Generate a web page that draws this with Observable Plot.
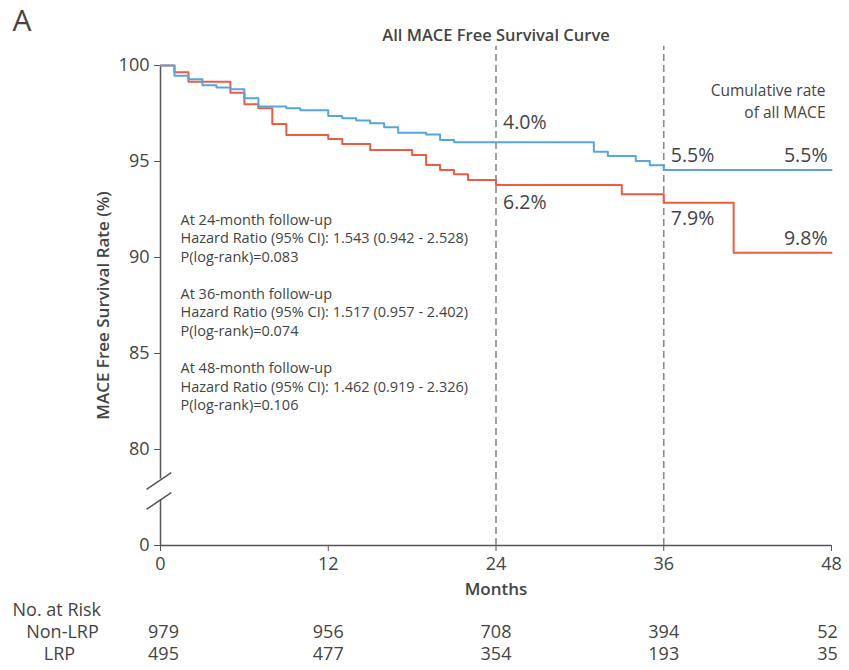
<!DOCTYPE html>
<html>
<head>
<meta charset="utf-8">
<script src="https://cdn.jsdelivr.net/npm/d3@7"></script>
<script src="https://cdn.jsdelivr.net/npm/@observablehq/plot@0.6"></script>
<style>
  html, body { margin: 0; padding: 0; background: #fff; }
  #chart { width: 849px; height: 670px; }
  svg { font-family: "Open Sans", "Noto Sans", sans-serif; }
</style>
</head>
<body>
<div id="chart"></div>
<script>
// ---------- data ----------
const nonLrpMonths = [0, 1, 2, 3, 4, 5, 6, 7, 9, 10, 12, 13, 14, 15, 16, 17, 19, 20, 21, 31, 32, 34, 35, 36, 48];
const nonLrpSurv   = [100, 99.47, 99.28, 98.97, 98.86, 98.76, 98.29, 97.86, 97.77, 97.67, 97.37, 97.25, 97.13, 96.99, 96.78, 96.5, 96.41, 96.12, 96.0, 95.51, 95.29, 95.03, 94.8, 94.56, 94.56];
const lrpMonths = [0, 1, 2, 5, 6, 7, 8, 9, 12, 13, 15, 18, 19, 20, 21, 22, 24, 33, 36, 41, 48];
const lrpSurv   = [100, 99.65, 99.16, 98.58, 97.98, 97.77, 96.95, 96.38, 96.17, 95.91, 95.6, 95.34, 94.82, 94.56, 94.33, 94.04, 93.78, 93.29, 92.85, 90.25, 90.25];

const xTicks = [0, 12, 24, 36, 48];
const yTicks = [75, 80, 85, 90, 95, 100];          // 75 is drawn as "0" (broken axis)
const yTickLabels = ["0", "80", "85", "90", "95", "100"];
const landmarkMonths = [24, 36];

const riskNonLrp = [979, 956, 708, 394, 52];
const riskLrp    = [495, 477, 354, 193, 35];

const rateLabels    = ["4.0%", "6.2%", "5.5%", "7.9%", "5.5%", "9.8%"];
const rateMonths    = [24, 24, 36, 36, 48, 48];
const rateValues    = [97.0, 92.85, 95.3, 92.0, 95.3, 91.0];
const rateAnchors   = ["start", "start", "start", "start", "end", "end"];

const statsLines = [
  "At 24-month follow-up", "Hazard Ratio (95% CI): 1.543 (0.942 - 2.528)", "P(log-rank)=0.083", "",
  "At 36-month follow-up", "Hazard Ratio (95% CI): 1.517 (0.957 - 2.402)", "P(log-rank)=0.074", "",
  "At 48-month follow-up", "Hazard Ratio (95% CI): 1.462 (0.919 - 2.326)", "P(log-rank)=0.106"
];

// ---------- tables built from arrays ----------
const curves = [
  ...lrpMonths.map((m, i) => ({group: "LRP", month: m, surv: lrpSurv[i]})),
  ...nonLrpMonths.map((m, i) => ({group: "Non-LRP", month: m, surv: nonLrpSurv[i]}))
];
const rates = rateLabels.map((t, i) => ({text: t, month: rateMonths[i], value: rateValues[i], anchor: rateAnchors[i]}));
const risk = xTicks.map((m, i) => ({month: m, non: riskNonLrp[i], lrp: riskLrp[i]}));

const blue = "#56a6dd";
const red = "#ef5a43";
const ink = "#444";
const axisInk = "#555";

const breakTop = 78.47, breakBottom = 77.4;

function riskMarks(rows, dx) {
  return [
    Plot.text(rows, {x: "month", frameAnchor: "bottom", dy: 92, dx, text: d => String(d.non), fontSize: 18, fill: ink}),
    Plot.text(rows, {x: "month", frameAnchor: "bottom", dy: 114, dx, text: d => String(d.lrp), fontSize: 18, fill: ink})
  ];
}

const chart = Plot.plot({
  width: 849,
  height: 670,
  marginLeft: 160,
  marginRight: 18,
  marginTop: 65,
  marginBottom: 125,
  style: {fontFamily: "'Open Sans', 'Noto Sans', sans-serif", color: ink, background: "#fff"},
  x: {domain: [0, 48], ticks: xTicks},
  y: {domain: [75, 100], ticks: yTicks},
  marks: [
    // y axis line with break gap
    Plot.ruleX([0], {y1: breakTop, y2: 100, stroke: axisInk, strokeWidth: 1.5}),
    Plot.ruleX([0], {y1: 75, y2: breakBottom, stroke: axisInk, strokeWidth: 1.5}),
    // break slashes
    Plot.link([{x1: -1.0, y1: 77.92, x2: 0.77, y2: 78.8}, {x1: -1.0, y1: 76.88, x2: 0.77, y2: 77.76}],
      {x1: "x1", y1: "y1", x2: "x2", y2: "y2", stroke: axisInk, strokeWidth: 1.5}),
    // x axis line
    Plot.ruleY([75], {stroke: axisInk, strokeWidth: 1.5}),
    Plot.axisX({ticks: xTicks, tickSize: 6, tickPadding: 6, fontSize: 18, stroke: axisInk, fill: ink, label: null, tickFormat: d => String(d)}),
    Plot.axisY({ticks: yTicks, tickSize: 6, tickPadding: 5, fontSize: 18, stroke: axisInk, fill: ink, label: null,
      tickFormat: d => yTickLabels[yTicks.indexOf(d)]}),
    // landmark dashed lines
    Plot.ruleX(landmarkMonths, {y1: 75, y2: 101, stroke: "#8a8a8a", strokeWidth: 1.6, strokeDasharray: "7,4"}),
    // survival curves
    Plot.line(curves, {x: "month", y: "surv", z: "group", curve: "step-after",
      stroke: d => d.group === "LRP" ? red : blue, strokeWidth: 2}),
    // cumulative rate labels
    Plot.text(rates.filter(d => d.anchor === "start"), {x: "month", y: "value", text: "text", textAnchor: "start", dx: 7, fontSize: 19.5, fill: ink}),
    Plot.text(rates.filter(d => d.anchor === "end"), {x: "month", y: "value", text: "text", textAnchor: "end", dx: -4, fontSize: 19.5, fill: ink}),
    Plot.text(["Cumulative rate\nof all MACE"], {x: 48, y: 98.2, textAnchor: "end", dx: -6, fontSize: 15.5, lineHeight: 1.42, fill: ink}),
    // stats annotation
    Plot.text([statsLines.join("\n")], {frameAnchor: "top-left", dx: 20, dy: 146, textAnchor: "start", lineAnchor: "top",
      fontSize: 14.5, lineHeight: 1.28, fill: ink}),
    // titles
    Plot.text(["A"], {frameAnchor: "top-left", dx: -148, dy: -56, textAnchor: "start", lineAnchor: "top", fontSize: 30, fill: ink}),
    Plot.text(["All MACE Free Survival Curve"], {x: 24, frameAnchor: "top", dy: -36, fontSize: 16.5, fontWeight: 600, fill: ink}),
    Plot.text(["MACE Free Survival Rate (%)"], {frameAnchor: "left", textAnchor: "middle", dx: -57, rotate: -90, fontSize: 17, fontWeight: 600, fill: ink}),
    Plot.text(["Months"], {x: 24, frameAnchor: "bottom", dy: 49, fontSize: 17, fontWeight: 600, fill: ink}),
    // number at risk
    Plot.text(["No. at Risk"], {frameAnchor: "bottom-left", dx: -148, dy: 70, textAnchor: "start", fontSize: 18, fill: ink}),
    Plot.text(["Non-LRP"], {frameAnchor: "bottom-left", dx: -98, dy: 92, textAnchor: "middle", fontSize: 18, fill: ink}),
    Plot.text(["LRP"], {frameAnchor: "bottom-left", dx: -101, dy: 114, textAnchor: "middle", fontSize: 18, fill: ink}),
    ...riskMarks(risk.filter(d => d.month === 0), 3),
    ...riskMarks(risk.filter(d => d.month > 0 && d.month < 48), 0),
    ...riskMarks(risk.filter(d => d.month === 48), -4)
  ]
});
document.getElementById("chart").appendChild(chart);
</script>
</body>
</html>
